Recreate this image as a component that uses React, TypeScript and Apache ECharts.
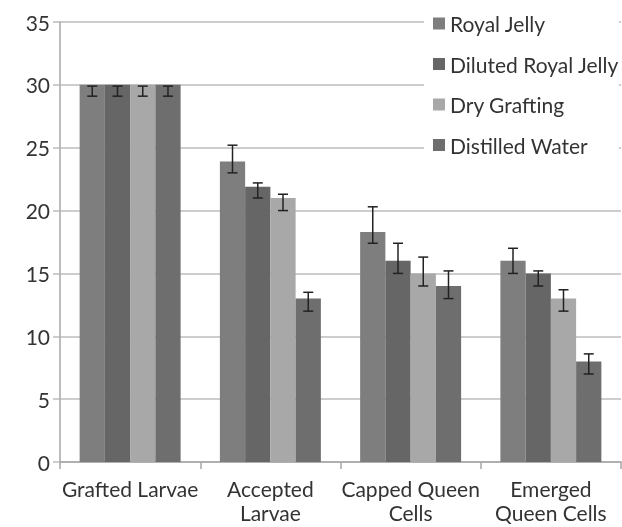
import React, { useEffect, useRef } from "react";
import * as echarts from "echarts";

const categories = ["Grafted Larvae", "Accepted\nLarvae", "Capped Queen\nCells", "Emerged\nQueen Cells"];
const seriesNames = ["Royal Jelly", "Diluted Royal Jelly", "Dry Grafting", "Distilled Water"];

const royalJelly = [30, 23.9, 18.3, 16.0];
const dilutedRoyalJelly = [30, 21.9, 16.0, 15.0];
const dryGrafting = [30, 21.0, 15.0, 13.0];
const distilledWater = [30, 13.0, 14.0, 8.0];

const royalJellyLow = [29.1, 23.0, 17.4, 15.0];
const royalJellyHigh = [29.9, 25.2, 20.3, 17.0];
const dilutedLow = [29.1, 21.0, 15.0, 14.0];
const dilutedHigh = [29.9, 22.2, 17.4, 15.2];
const dryLow = [29.1, 20.0, 14.0, 12.0];
const dryHigh = [29.9, 21.3, 16.3, 13.7];
const waterLow = [29.1, 12.0, 13.0, 7.0];
const waterHigh = [29.9, 13.5, 15.2, 8.6];

const yTicks = [0, 5, 10, 15, 20, 25, 30, 35];

const colors = ["#7e7e7e", "#666666", "#a8a8a8", "#6e6e6e"];
const FONT = "Lato, 'Liberation Sans', sans-serif";
const TEXT = "#333333";
const FS = 21;
const GAP = 0.28;

export default function App() {
  const ref = useRef<HTMLDivElement>(null);
  useEffect(() => {
    if (!ref.current) return;
    const chart = echarts.init(ref.current, null, { renderer: "svg" });
    const values = [royalJelly, dilutedRoyalJelly, dryGrafting, distilledWater];
    const lows = [royalJellyLow, dilutedLow, dryLow, waterLow];
    const highs = [royalJellyHigh, dilutedHigh, dryHigh, waterHigh];
    const errData: number[][] = [];
    lows.forEach((lo, si) => lo.forEach((l, ci) => errData.push([ci, l, highs[si][ci], si])));

    chart.setOption({
      animation: false,
      textStyle: { fontFamily: FONT },
      grid: { left: 60, right: 1, top: 22, bottom: 65 },
      legend: {
        orient: "vertical",
        left: 424,
        top: 5,
        padding: [8, 0, 8, 9],
        backgroundColor: "#ffffff",
        itemWidth: 12,
        itemHeight: 12,
        itemGap: 19.5,
        icon: "rect",
        textStyle: { fontSize: FS, color: TEXT, fontFamily: FONT, lineHeight: 21 },
        data: seriesNames,
      },
      xAxis: {
        type: "category",
        data: categories,
        axisLine: { lineStyle: { color: "#a6a6a6", width: 1.5 } },
        axisTick: { show: true, length: 7, lineStyle: { color: "#a6a6a6", width: 1.5 } },
        axisLabel: { interval: 0, fontSize: FS, color: TEXT, margin: 14, lineHeight: 24, fontFamily: FONT },
      },
      yAxis: {
        type: "value",
        min: 0,
        max: yTicks[yTicks.length - 1],
        interval: 5,
        axisLine: { show: true, lineStyle: { color: "#a6a6a6", width: 1.5 } },
        axisTick: { show: true, length: 7, lineStyle: { color: "#bdbdbd", width: 1.5 } },
        axisLabel: { fontSize: FS, color: TEXT, margin: 10, fontFamily: FONT },
        splitLine: { lineStyle: { color: "#bdbdbd", width: 1.5 } },
      },
      series: [
        ...values.map((v, i) => ({
          name: seriesNames[i],
          type: "bar",
          data: v,
          barGap: "0%",
          barCategoryGap: GAP * 100 + "%",
          itemStyle: { color: colors[i] },
        })),
        {
          type: "custom",
          z: 5,
          encode: { x: 0, y: [1, 2] },
          data: errData,
          renderItem: (params: any, api: any) => {
            const cat = api.value(0);
            const lo = api.value(1);
            const hi = api.value(2);
            const si = api.value(3);
            const pLo = api.coord([cat, lo]);
            const pHi = api.coord([cat, hi]);
            const bandW = api.size([1, 0])[0];
            const groupW = bandW * (1 - GAP);
            const barW = groupW / 4;
            const x = pLo[0] - groupW / 2 + barW * (si + 0.5);
            const cw = 5;
            const style = { stroke: "#222222", lineWidth: 1.5 };
            return {
              type: "group",
              children: [
                { type: "line", shape: { x1: x, y1: pLo[1], x2: x, y2: pHi[1] }, style },
                { type: "line", shape: { x1: x - cw, y1: pLo[1], x2: x + cw, y2: pLo[1] }, style },
                { type: "line", shape: { x1: x - cw, y1: pHi[1], x2: x + cw, y2: pHi[1] }, style },
              ],
            };
          },
        },
      ],
    });
    return () => chart.dispose();
  }, []);
  return <div ref={ref} style={{ position: "fixed", left: 0, top: 0, width: 622, height: 527 }} />;
}
